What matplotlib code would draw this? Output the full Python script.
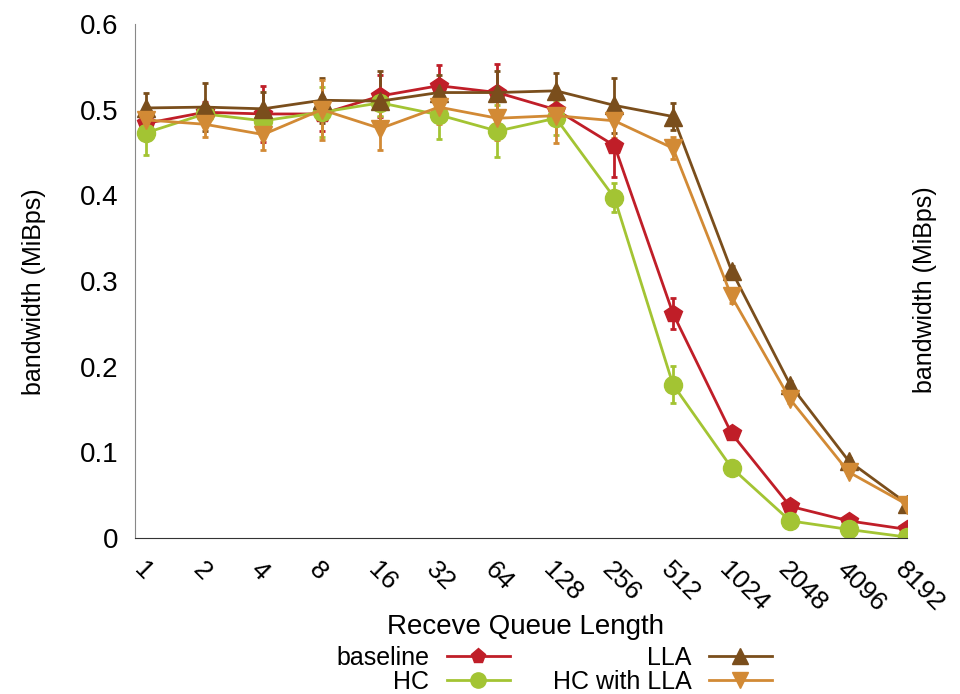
import matplotlib
matplotlib.use("Agg")
import matplotlib.pyplot as plt
from matplotlib.lines import Line2D

plt.rcParams['font.family'] = ['Liberation Sans', 'DejaVu Sans']

# queue lengths (x categories)
queue_len = ['1', '2', '4', '8', '16', '32', '64', '128', '256', '512', '1024', '2048', '4096', '8192']

# bandwidth per series (MiBps)
baseline = [0.484, 0.497, 0.495, 0.495, 0.516, 0.528, 0.520, 0.500, 0.458, 0.262, 0.122, 0.037, 0.020, 0.010]
baseline_err = [0.010, 0.012, 0.033, 0.020, 0.025, 0.024, 0.033, 0.015, 0.037, 0.018, 0.004, 0.003, 0.002, 0.002]
hc = [0.473, 0.495, 0.487, 0.497, 0.508, 0.494, 0.475, 0.490, 0.397, 0.179, 0.082, 0.020, 0.010, 0.001]
hc_err = [0.026, 0.010, 0.015, 0.029, 0.015, 0.028, 0.030, 0.020, 0.017, 0.022, 0.004, 0.003, 0.002, 0.001]
lla = [0.502, 0.503, 0.501, 0.511, 0.510, 0.520, 0.520, 0.522, 0.505, 0.492, 0.312, 0.179, 0.090, 0.040]
lla_err = [0.017, 0.028, 0.020, 0.026, 0.035, 0.020, 0.025, 0.021, 0.032, 0.016, 0.006, 0.004, 0.003, 0.002]
hc_lla = [0.488, 0.483, 0.471, 0.500, 0.478, 0.503, 0.490, 0.493, 0.487, 0.455, 0.282, 0.162, 0.077, 0.039]
hc_lla_err = [0.012, 0.015, 0.018, 0.035, 0.025, 0.020, 0.025, 0.032, 0.020, 0.013, 0.008, 0.004, 0.003, 0.002]

series = [
    ('baseline', baseline, baseline_err, '#c01e28', 'p'),
    ('HC', hc, hc_err, '#a3c433', 'o'),
    ('LLA', lla, lla_err, '#7a4e1c', '^'),
    ('HC with LLA', hc_lla, hc_lla_err, '#d28a35', 'v'),
]

fig = plt.figure(figsize=(9.6, 6.94), dpi=100)
ax = fig.add_axes([0.1406, 0.2248, 0.8044, 0.7406])

x = list(range(len(queue_len)))
handles = {}
for name, vals, err, col, mk in series:
    ax.errorbar(x, vals, yerr=err, color=col, marker=mk, markersize=13,
                linewidth=2, elinewidth=2, capsize=2.5, capthick=2)
    handles[name] = Line2D([], [], color=col, marker=mk, markersize=11, linewidth=2)

ax.set_xlim(-0.19, 13.0)
ax.set_ylim(0, 0.6)
ax.set_yticks([0, 0.1, 0.2, 0.3, 0.4, 0.5, 0.6])
ax.set_yticklabels(['0', '0.1', '0.2', '0.3', '0.4', '0.5', '0.6'], fontsize=20)
ax.set_xticks(x)
ax.set_xticklabels(queue_len, fontsize=19, rotation=-45, ha='left', va='top',
                   rotation_mode='anchor')
ax.tick_params(axis='y', length=0, pad=12)
ax.tick_params(axis='x', length=0, pad=14)
ax.spines['top'].set_visible(False)
ax.spines['right'].set_visible(False)
ax.spines['left'].set_color('#888888')
ax.spines['bottom'].set_color('#333333')

ax.set_ylabel('bandwidth (MiBps)', fontsize=18)
ax.yaxis.set_label_coords(-0.115, 0.48)
fig.text(0.964, 0.582, 'bandwidth (MiBps)', rotation=90, fontsize=18, ha='center', va='center')
fig.text(0.547, 0.097, 'Receve Queue Length', fontsize=20, ha='center', va='center')

order = ['baseline', 'HC', 'LLA', 'HC with LLA']
leg = fig.legend([handles[n] for n in order], order, loc='center', bbox_to_anchor=(0.577, 0.035),
                 ncol=2, frameon=False, markerfirst=False, fontsize=18, handlelength=2.52,
                 columnspacing=1.72, labelspacing=0.0, handletextpad=0.7, borderpad=0.1)
for t in leg.get_texts():
    t.set_ha('right')

fig.savefig('out.png', dpi=100)
